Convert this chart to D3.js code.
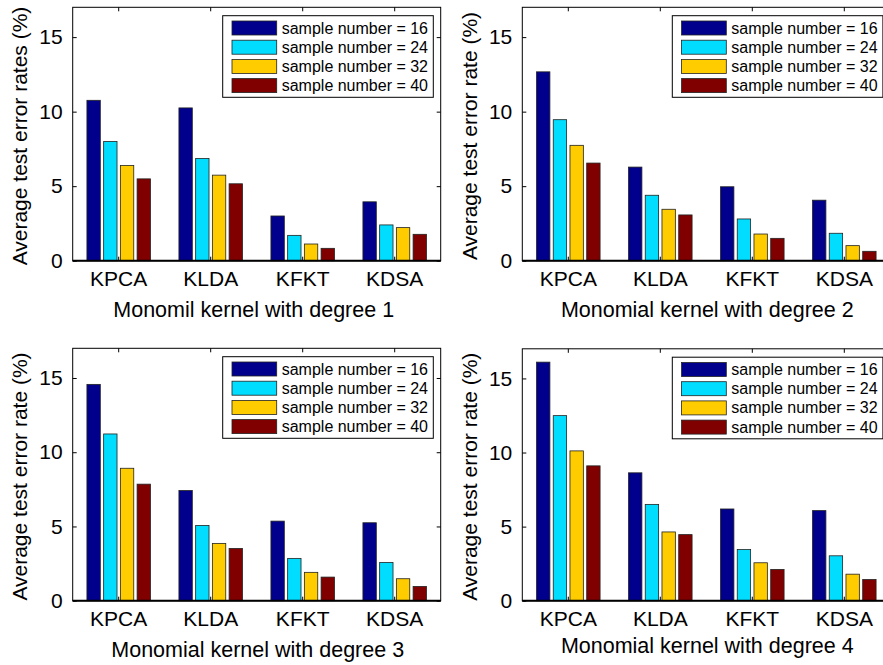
<!DOCTYPE html>
<html>
<head>
<meta charset="utf-8">
<script src="https://cdn.jsdelivr.net/npm/d3@7"></script>
<style>
  html, body { margin: 0; padding: 0; background: #fff; }
  svg { display: block; font-family: "Liberation Sans", Arial, sans-serif; }
</style>
</head>
<body>
<svg id="chart" width="883" height="665"></svg>
<script>
// ---- data ----
const categories = ["KPCA", "KLDA", "KFKT", "KDSA"];
const seriesLabels = ["sample number = 16", "sample number = 24", "sample number = 32", "sample number = 40"];
const seriesColors = ["#00008c", "#00ddff", "#ffcc00", "#800000"];
const yTicks = [0, 5, 10, 15];

// values per category: [n=16, n=24, n=32, n=40]
const degree1 = [[10.76, 8.0, 6.39, 5.49], [10.25, 6.86, 5.74, 5.16], [3.0, 1.70, 1.12, 0.83], [3.95, 2.40, 2.22, 1.77]];
const degree2 = [[12.67, 9.46, 7.74, 6.55], [6.28, 4.39, 3.45, 3.07], [4.96, 2.80, 1.79, 1.50], [4.06, 1.84, 1.01, 0.63]];
const degree3 = [[14.57, 11.23, 8.92, 7.85], [7.42, 5.07, 3.86, 3.52], [5.36, 2.85, 1.91, 1.59], [5.25, 2.58, 1.48, 0.96]];
const degree4 = [[16.1, 12.49, 10.11, 9.10], [8.63, 6.50, 4.64, 4.46], [6.19, 3.45, 2.56, 2.11], [6.08, 3.03, 1.79, 1.43]];

const panelTitles = ["Monomil kernel with degree 1", "Monomial kernel with degree 2", "Monomial kernel with degree 3", "Monomial kernel with degree 4"];
const panelYLabels = ["Average test error rates (%)", "Average test error rate (%)", "Average test error rate (%)", "Average test error rate (%)"];
const panelData = [degree1, degree2, degree3, degree4];

// ---- layout ----
const panelBoxes = [
  { left: 72.7, top: 7.3, bottom: 260.7, titleOff: 56, titleDx: -3 },
  { left: 522.3, top: 7.3, bottom: 260.7, titleOff: 56, titleDx: 1 },
  { left: 72.7, top: 348.3, bottom: 600.7, titleOff: 56, titleDx: 1 },
  { left: 522.3, top: 348.8, bottom: 600.7, titleOff: 52, titleDx: 1 }
];
const axW = 368;
const svg = d3.select("#chart");

panelBoxes.forEach((box, p) => {
  const g = svg.append("g");
  const right = box.left + axW;
  const x = d3.scaleBand().domain(categories).range([box.left, right]).paddingInner(0).paddingOuter(0);
  const bw = x.bandwidth();
  const inner = d3.scaleBand().domain(d3.range(seriesLabels.length))
    .range([-0.3636 * bw, 0.3636 * bw]).paddingInner(0.2).paddingOuter(0.1);
  const y = d3.scaleLinear().domain([0, 17]).range([box.bottom, box.top]);

  // bars
  const data = panelData[p];
  categories.forEach((c, ci) => {
    data[ci].forEach((v, si) => {
      g.append("rect")
        .attr("x", x(c) + bw / 2 + inner(si))
        .attr("y", y(v))
        .attr("width", inner.bandwidth())
        .attr("height", y(0) - y(v))
        .attr("fill", seriesColors[si])
        .attr("stroke", "#222")
        .attr("stroke-width", 0.8);
    });
  });

  // axes box
  g.append("rect")
    .attr("x", box.left).attr("y", box.top)
    .attr("width", axW).attr("height", box.bottom - box.top)
    .attr("fill", "none").attr("stroke", "#000").attr("stroke-width", 1);
  g.append("line")
    .attr("x1", box.left).attr("x2", right)
    .attr("y1", y(0)).attr("y2", y(0))
    .attr("stroke", "#000").attr("stroke-width", 2);

  // y axis (left) - inward ticks
  const yAxis = d3.axisLeft(y).tickValues(yTicks).tickSizeInner(-4).tickSizeOuter(0).tickPadding(10);
  const ya = g.append("g").attr("transform", `translate(${box.left},0)`).call(yAxis);
  ya.select(".domain").remove();
  ya.selectAll("text").attr("font-size", 21).attr("fill", "#000").attr("font-family", "Liberation Sans, Arial, sans-serif");
  ya.selectAll("line").attr("stroke", "#000");
  // right ticks
  const yAxisR = d3.axisRight(y).tickValues(yTicks).tickSizeInner(-4).tickSizeOuter(0).tickFormat("");
  const yr = g.append("g").attr("transform", `translate(${right},0)`).call(yAxisR);
  yr.select(".domain").remove();
  yr.selectAll("line").attr("stroke", "#000");

  // x axis bottom
  const xAxis = d3.axisBottom(x).tickSizeInner(-4).tickSizeOuter(0).tickPadding(10);
  const xa = g.append("g").attr("transform", `translate(0,${box.bottom})`).call(xAxis);
  xa.select(".domain").remove();
  xa.selectAll("text").attr("font-size", 21).attr("fill", "#000").attr("font-family", "Liberation Sans, Arial, sans-serif");
  xa.selectAll("line").attr("stroke", "#000");
  // x axis top ticks
  const xAxisT = d3.axisTop(x).tickSizeInner(-4).tickSizeOuter(0).tickFormat("");
  const xt = g.append("g").attr("transform", `translate(0,${box.top})`).call(xAxisT);
  xt.select(".domain").remove();
  xt.selectAll("line").attr("stroke", "#000");

  // titles
  g.append("text")
    .attr("x", (box.left + right) / 2 + box.titleDx)
    .attr("y", box.bottom + box.titleOff)
    .attr("text-anchor", "middle")
    .attr("font-size", 21.5)
    .text(panelTitles[p]);
  g.append("text")
    .attr("transform", `translate(${box.left - 53},${(box.top + box.bottom) / 2 + 2}) rotate(-90)`)
    .attr("dy", "0.35em")
    .attr("text-anchor", "middle")
    .attr("font-size", 21)
    .text(panelYLabels[p]);

  // legend
  const lx = box.left + 150, ly = box.top + 8.4;
  const lg = g.append("g").attr("transform", `translate(${lx},${ly})`);
  lg.append("rect").attr("x", 0).attr("y", 0).attr("width", 210.6).attr("height", 81.6)
    .attr("fill", "#fff").attr("stroke", "#000").attr("stroke-width", 1);
  seriesLabels.forEach((s, i) => {
    const cy = 12.3 + i * 19.2;
    lg.append("rect").attr("x", 9.3).attr("y", cy - 7).attr("width", 44.7).attr("height", 14)
      .attr("fill", seriesColors[i]).attr("stroke", "#222").attr("stroke-width", 0.8);
    lg.append("text").attr("x", 59).attr("y", cy).attr("dy", "0.35em")
      .attr("font-size", 16).text(s);
  });
});
</script>
</body>
</html>
